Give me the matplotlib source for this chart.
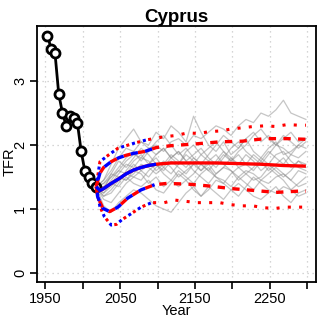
import numpy as np
import matplotlib
matplotlib.use("Agg")
import matplotlib.pyplot as plt

plt.rcParams['font.family'] = ['Liberation Sans', 'DejaVu Sans']

# Observed TFR
obs_years = [1953, 1958, 1963, 1968, 1973, 1978, 1983, 1988, 1993, 1998, 2003, 2008, 2013, 2018]
obs_tfr = [3.71, 3.50, 3.44, 2.80, 2.50, 2.30, 2.46, 2.43, 2.34, 1.90, 1.59, 1.50, 1.40, 1.35]

# Projection median
med_years = [2018, 2023, 2028, 2038, 2048, 2058, 2068, 2078, 2088, 2098, 2118, 2148, 2178, 2208, 2238, 2268, 2298]
med_tfr = [1.35, 1.29, 1.32, 1.40, 1.47, 1.55, 1.61, 1.65, 1.68, 1.70, 1.72, 1.72, 1.72, 1.71, 1.70, 1.68, 1.67]

# 80% interval
u80_years = [2018, 2023, 2028, 2038, 2048, 2058, 2068, 2083, 2098, 2118, 2153, 2183, 2213, 2243, 2273, 2298]
u80_tfr = [1.35, 1.56, 1.65, 1.74, 1.80, 1.84, 1.87, 1.90, 1.96, 1.99, 2.02, 2.05, 2.06, 2.10, 2.10, 2.09]
l80_years = [2018, 2020, 2027, 2036, 2047, 2060, 2078, 2096, 2112, 2140, 2169, 2198, 2229, 2258, 2289, 2298]
l80_tfr = [1.35, 1.19, 1.01, 0.96, 1.03, 1.17, 1.30, 1.38, 1.40, 1.39, 1.36, 1.32, 1.29, 1.26, 1.28, 1.28]

# 95% interval
u95_years = [2018, 2023, 2034, 2047, 2069, 2085, 2109, 2125, 2140, 2155, 2169, 2184, 2198, 2213, 2228, 2243, 2258, 2273, 2288, 2298]
u95_tfr = [1.35, 1.74, 1.84, 1.95, 2.03, 2.08, 2.13, 2.15, 2.19, 2.18, 2.21, 2.22, 2.25, 2.27, 2.29, 2.30, 2.29, 2.32, 2.31, 2.31]
l95_years = [2018, 2023, 2029, 2038, 2045, 2052, 2065, 2078, 2092, 2109, 2123, 2138, 2153, 2168, 2183, 2197, 2212, 2227, 2242, 2257, 2271, 2286, 2298]
l95_tfr = [1.35, 1.04, 0.88, 0.75, 0.76, 0.83, 0.93, 1.03, 1.10, 1.10, 1.14, 1.12, 1.10, 1.10, 1.10, 1.07, 1.05, 1.05, 1.02, 1.01, 1.03, 1.03, 1.03]

blue_end = 2100

# Sample trajectories (10-year steps from 2018)
traj_years = list(range(2018, 2299, 10))
traj_1 = [1.35,1.30,1.45,1.60,1.75,1.85,1.80,1.95,2.00,1.90,2.05,2.10,2.00,2.15,2.10,2.20,2.30,2.25,2.15,2.30,2.40,2.35,2.50,2.45,2.55,2.70,2.50,2.45,2.40]
traj_2 = [1.35,1.45,1.70,1.95,2.10,2.25,2.05,2.00,2.20,2.10,2.30,2.20,2.05,2.45,2.20,2.00,1.90,2.05,1.85,1.95,2.10,1.90,1.80,1.95,2.05,1.85,1.90,2.00,1.95]
traj_3 = [1.35,1.05,0.95,1.10,1.20,1.30,1.25,1.15,1.05,1.00,0.95,1.10,1.25,1.35,1.20,1.30,1.45,1.40,1.30,1.20,1.35,1.50,1.40,1.30,1.25,1.35,1.30,1.20,1.25]
traj_4 = [1.35,1.25,1.40,1.55,1.70,1.65,1.80,1.75,1.60,1.70,1.85,1.75,1.65,1.80,1.70,1.60,1.75,1.90,1.80,1.65,1.70,1.85,1.75,1.60,1.70,1.80,1.65,1.75,1.70]
traj_5 = [1.35,1.20,1.30,1.45,1.55,1.50,1.60,1.70,1.85,1.95,1.80,1.70,1.90,2.00,1.85,1.75,1.65,1.80,1.95,2.05,1.90,1.80,1.70,1.85,2.00,1.95,1.85,1.80,1.90]
traj_6 = [1.35,1.40,1.55,1.50,1.45,1.60,1.55,1.40,1.50,1.35,1.45,1.60,1.50,1.40,1.55,1.65,1.50,1.45,1.35,1.50,1.60,1.55,1.45,1.40,1.50,1.55,1.45,1.35,1.40]
traj_7 = [1.35,1.30,1.55,1.75,1.65,1.80,1.95,1.85,1.70,1.60,1.75,1.65,1.55,1.70,1.85,1.95,2.05,1.90,1.75,1.85,1.70,1.60,1.75,1.90,1.80,1.70,1.85,2.00,2.10]
traj_8 = [1.35,1.15,1.10,1.25,1.40,1.50,1.45,1.60,1.70,1.55,1.45,1.35,1.45,1.55,1.70,1.60,1.50,1.40,1.55,1.65,1.55,1.45,1.50,1.65,1.55,1.45,1.30,1.40,1.50]
traj_9 = [1.35,1.35,1.50,1.65,1.80,1.90,1.75,1.90,2.05,2.15,2.00,1.85,1.95,1.80,1.70,1.85,2.00,2.15,2.05,1.95,2.10,2.20,2.05,2.15,2.00,2.10,2.20,2.05,2.10]
traj_10 = [1.35,1.25,1.35,1.50,1.45,1.55,1.70,1.65,1.55,1.65,1.80,1.90,1.75,1.60,1.50,1.40,1.55,1.65,1.60,1.50,1.40,1.30,1.45,1.55,1.65,1.55,1.45,1.60,1.55]
traj_11 = [1.35,1.30,1.40,1.35,1.50,1.40,1.35,1.45,1.30,1.25,1.40,1.55,1.45,1.30,1.20,1.35,1.25,1.15,1.30,1.40,1.30,1.20,1.15,1.25,1.35,1.20,1.10,1.25,1.30]
traj_12 = [1.35,1.45,1.60,1.80,1.95,1.90,2.05,1.95,1.85,1.95,1.80,1.90,1.75,1.85,1.95,1.80,1.70,1.85,1.75,1.90,2.00,2.15,2.25,2.10,2.00,2.15,2.05,1.95,2.05]
traj_13 = [1.35,1.20,1.25,1.40,1.60,1.75,1.85,1.70,1.80,1.65,1.55,1.70,1.85,1.75,1.60,1.70,1.55,1.65,1.80,1.70,1.85,1.75,1.60,1.70,1.85,1.90,1.75,1.65,1.60]
traj_14 = [1.35,1.40,1.50,1.60,1.55,1.70,1.60,1.50,1.65,1.75,1.65,1.50,1.60,1.70,1.60,1.75,1.85,1.70,1.60,1.45,1.55,1.65,1.80,1.70,1.60,1.50,1.60,1.75,1.65]
trajectories = [traj_1, traj_2, traj_3, traj_4, traj_5, traj_6, traj_7,
                traj_8, traj_9, traj_10, traj_11, traj_12, traj_13, traj_14]

xticks = [1950, 2000, 2050, 2100, 2150, 2200, 2250, 2300]
xticklabels = ["1950", "", "2050", "", "2150", "", "2250", ""]
yticks = [0, 1, 2, 3]

fig = plt.figure(figsize=(3.18, 3.20), dpi=100)
ax = fig.add_axes([37/318, 1-282/320, (316-37)/318, (282-26)/320])

for tr in trajectories:
    ax.plot(traj_years, tr, color='#8c8c8c', alpha=0.5, lw=0.9, zorder=2)

ax.plot(obs_years, obs_tfr, color='black', lw=2, marker='o', ms=6.5,
        mfc='white', mec='black', mew=2, zorder=5)

def plot_band(years, vals, color, style, limit=None, offset=0):
    y = np.array(years); v = np.array(vals)
    if limit is not None:
        m = y <= limit
        y, v = y[m], v[m]
    if style == 'solid':
        ax.plot(y, v, color=color, lw=2.4, zorder=6, solid_capstyle='butt')
    elif style == 'dash':
        ax.plot(y, v, color=color, lw=2.4, linestyle=(offset, (2.2, 2.2)),
                zorder=6, dash_capstyle='butt')
    else:
        ax.plot(y, v, color=color, lw=2.2, linestyle=(offset, (1.0, 2.7)),
                zorder=6, dash_capstyle='butt')

for col, lim, off in [('red', None, 0), ('blue', blue_end, 2.2)]:
    plot_band(med_years, med_tfr, col, 'solid', lim)
    plot_band(u80_years, u80_tfr, col, 'dash', lim, off)
    plot_band(l80_years, l80_tfr, col, 'dash', lim, off)
    plot_band(u95_years, u95_tfr, col, 'dot', lim, off * 0.8)
    plot_band(l95_years, l95_tfr, col, 'dot', lim, off * 0.8)

ax.set_xlim(1939, 2311.5)
ax.set_ylim(-0.14, 3.86)
ax.set_xticks(xticks)
ax.set_xticklabels(xticklabels)
ax.set_yticks(yticks)
ax.set_yticklabels([str(t) for t in yticks], rotation=90, va='center')
ax.tick_params(axis='both', length=5, width=1.2, labelsize=10.5, pad=2)
ax.grid(True, color='#c8c8c8', linestyle=(0, (1, 3)), lw=0.9, zorder=0)
ax.set_axisbelow(True)
for s in ax.spines.values():
    s.set_linewidth(1.3)

ax.set_xlabel("Year", fontsize=10.5, labelpad=-1.5)
ax.set_ylabel("TFR", fontsize=10.5, va='center')
ax.yaxis.set_label_coords(-27/279, 0.47)
ax.set_title("Cyprus", fontsize=13.5, fontweight='bold', pad=3)

fig.savefig("out.png", dpi=100)
